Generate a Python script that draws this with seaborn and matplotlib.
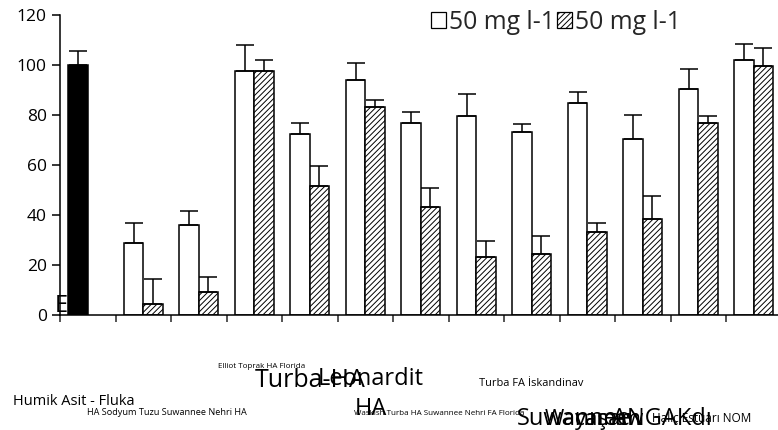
import numpy as np
import pandas as pd
import seaborn as sns
import matplotlib.pyplot as plt
from matplotlib.patches import Patch

# data
groups = ["Humik Asit - Fluka", "HA Sodyum Tuzu", "Suwannee Nehri HA", "Elliot Toprak HA",
          "Florida Turba-HA", "Leonardit HA", "Waskish Turba HA", "Suwannee Nehri FA",
          "Florida Turba FA", "İskandinav FA", "Suwannee NOM", "ANGAK", "Estuarı NOM"]
values_50 = [100.0, 28.7, 35.9, 97.7, 72.5, 94.1, 76.9, 79.7, 73.3, 84.8, 70.5, 90.5, 102.0]
err_50 = [5.7, 8.0, 5.7, 10.2, 4.4, 6.6, 4.3, 8.7, 3.0, 4.4, 9.4, 7.9, 6.4]
values_150 = [np.nan, 4.3, 9.3, 97.7, 51.7, 83.3, 43.1, 23.1, 24.4, 33.1, 38.3, 76.8, 99.7]
err_150 = [np.nan, 10.0, 5.8, 4.4, 7.9, 2.8, 7.8, 6.4, 7.2, 3.6, 9.2, 2.9, 7.2]
series = ["50 mg l-1", "150 mg l-1"]
legend_labels = ["50 mg l-1", "50 mg l-1"]
y_ticks = [0, 20, 40, 60, 80, 100, 120]

# the x labels as they appear (scattered, overlapping)
label_texts = ["E", "Humik Asit - Fluka", "HA Sodyum Tuzu Suwannee Nehri HA",
               "Elliot Toprak HA Florida", "Turba-HA", "Leonardit\nHA",
               "Waskish Turba HA Suwannee Nehri FA Florida", "Turba FA İskandinav",
               "Suwannee", "Wacamaw", "yaşam", "ANGAKdı", "Haliç Estuarı NOM"]
# (left x px, baseline y px, size pt)
label_layout = [(55, 312, 17), (13, 405, 10.5), (87, 415, 6.6),
                (218, 368, 5.8), (255, 387, 18), (318, 415, 17),
                (354, 415, 5.8), (479, 386, 7.9),
                (517, 425, 17), (545, 425, 15), (575, 425, 16), (612, 425, 17), (652, 422, 8.5)]

df = pd.DataFrame({
    "group": groups * 2,
    "series": [series[0]] * len(groups) + [series[1]] * len(groups),
    "value": values_50 + values_150,
    "err": err_50 + err_150,
})
df = df.dropna(subset=["value"])

sns.set_style("ticks")
plt.rcParams["font.family"] = ["Open Sans", "DejaVu Sans"]
plt.rcParams["hatch.linewidth"] = 0.7

W, H = 778, 430
fig = plt.figure(figsize=(W / 100, H / 100), dpi=100)
ax = fig.add_axes([60 / W, 1 - 315 / H, 721.5 / W, 300 / H])

sns.barplot(data=df, x="group", y="value", hue="series", hue_order=series, order=groups,
            palette=["white", "white"], edgecolor="black", linewidth=1.1,
            width=0.7, errorbar=None, legend=False, ax=ax)

# black control bar, hatched second series
ax.containers[0][0].set_facecolor("black")
for bar in ax.containers[1]:
    bar.set_hatch("//////")

# upper-only error bars
for cont, s in zip(ax.containers, series):
    sub = df[df["series"] == s]
    xs = [b.get_x() + b.get_width() / 2 for b in cont]
    hs = [b.get_height() for b in cont]
    errs = sub["err"].to_numpy()
    ax.errorbar(xs, hs, yerr=[np.zeros(len(errs)), errs], fmt="none",
                ecolor="black", elinewidth=1.1, capsize=6.5, capthick=1.1, zorder=1)

ax.set_ylim(0, 120)
ax.set_yticks(y_ticks)
ax.set_xlim(-0.5, len(groups) - 0.5)
ax.set_xticks(np.arange(-0.5, len(groups), 1))
ax.set_xticklabels([])
ax.set_xlabel("")
ax.set_ylabel("")
ax.tick_params(axis="y", labelsize=12.5, length=6, width=1.1, direction="out", colors="black")
ax.tick_params(axis="x", length=5, width=1.1, direction="out")
sns.despine(ax=ax)
for sp in ["left", "bottom"]:
    ax.spines[sp].set_linewidth(1.1)
    ax.spines[sp].set_color("black")

for txt, (x, y, size) in zip(label_texts, label_layout):
    fig.text(x / W, 1 - y / H, txt, fontsize=size, ha="left", va="baseline",
             multialignment="center", color="black", linespacing=1.35)

handles = [Patch(facecolor="white", edgecolor="black", linewidth=0.9),
           Patch(facecolor="white", edgecolor="black", linewidth=0.9, hatch="//////")]
fig.legend(handles, legend_labels, ncol=2, frameon=False, fontsize=17.8,
           loc="upper left", bbox_to_anchor=(431 / W, 1 - 10 / H),
           handlelength=0.62, handleheight=0.62, handletextpad=0.12,
           columnspacing=0.08, borderpad=0, borderaxespad=0)

fig.savefig("out.png", dpi=100)
